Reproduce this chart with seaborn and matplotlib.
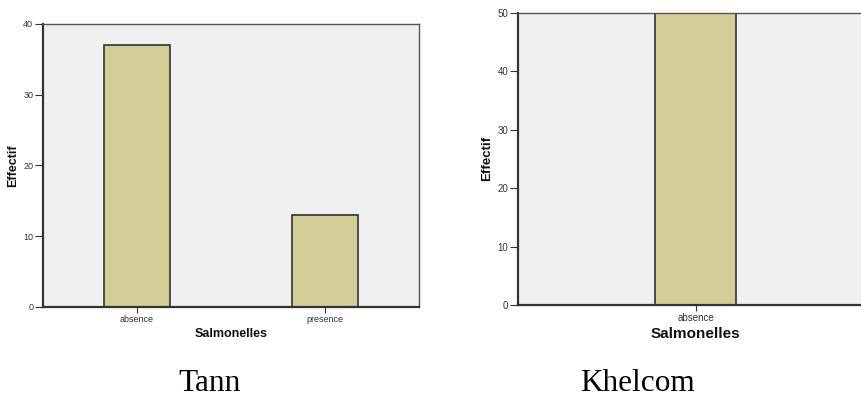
import matplotlib
matplotlib.use("Agg")
import matplotlib.pyplot as plt
import seaborn as sns

# Salmonella counts per site
TANN_CATS = ["absence", "presence"]
TANN_COUNTS = [37, 13]
KHELCOM_CATS = ["absence"]
KHELCOM_COUNTS = [50]
TANN_YTICKS = [0, 10, 20, 30, 40]
KHELCOM_YTICKS = [0, 10, 20, 30, 40, 50]

BAR_COLOR = "#D3CE97"
EDGE_COLOR = "#333333"
BG_COLOR = "#F0F0F0"


def style_axes(ax, tick_size, label_size, xlabel_size):
    ax.set_facecolor(BG_COLOR)
    for side in ["left", "bottom"]:
        ax.spines[side].set_color("#333333")
        ax.spines[side].set_linewidth(1.6)
    for side in ["top", "right"]:
        ax.spines[side].set_color("#555555")
        ax.spines[side].set_linewidth(1.0)
    ax.tick_params(axis="y", left=True, direction="out", length=6, width=0.8,
                   labelsize=tick_size, colors="#333333", pad=1)
    ax.tick_params(axis="x", bottom=True, direction="out", length=4, width=0.8,
                   labelsize=tick_size, colors="#333333", pad=2)
    ax.set_ylabel("Effectif", fontsize=label_size, fontweight="bold", labelpad=3,
                  color="#111111")
    ax.set_xlabel("Salmonelles", fontsize=xlabel_size, fontweight="bold", labelpad=3,
                  color="#111111")


def main():
    sns.set_style("white")
    plt.rcParams["font.family"] = ["Liberation Sans", "DejaVu Sans"]

    fig = plt.figure(figsize=(8.62, 3.99), dpi=100)

    ax1 = fig.add_axes([0.0499, 0.2306, 0.4362, 0.7093])
    sns.barplot(x=TANN_CATS, y=TANN_COUNTS, color=BAR_COLOR, saturation=1,
                width=0.35, edgecolor=EDGE_COLOR, linewidth=1.2, ax=ax1)
    ax1.set_xlim(-0.5, 1.5)
    ax1.set_ylim(0, 40)
    ax1.set_yticks(TANN_YTICKS)
    style_axes(ax1, 6.5, 9, 9)

    ax2 = fig.add_axes([0.601, 0.2356, 0.412, 0.7326])
    sns.barplot(x=KHELCOM_CATS, y=KHELCOM_COUNTS, color=BAR_COLOR, saturation=1,
                width=0.228, edgecolor=EDGE_COLOR, linewidth=1.2, ax=ax2)
    ax2.set_xlim(-0.5, 0.5)
    ax2.set_ylim(0, 50)
    ax2.set_yticks(KHELCOM_YTICKS)
    style_axes(ax2, 7, 9.5, 11)

    serif = ["Liberation Serif", "DejaVu Serif"]
    fig.text(210 / 862, 1 - 391 / 399, "Tann", ha="center", va="baseline",
             fontsize=22.5, family=serif, color="black")
    fig.text(638 / 862, 1 - 391 / 399, "Khelcom", ha="center", va="baseline",
             fontsize=22.5, family=serif, color="black")

    fig.savefig("out.png", dpi=100, facecolor="white")
    plt.close(fig)


if __name__ == "__main__":
    main()
